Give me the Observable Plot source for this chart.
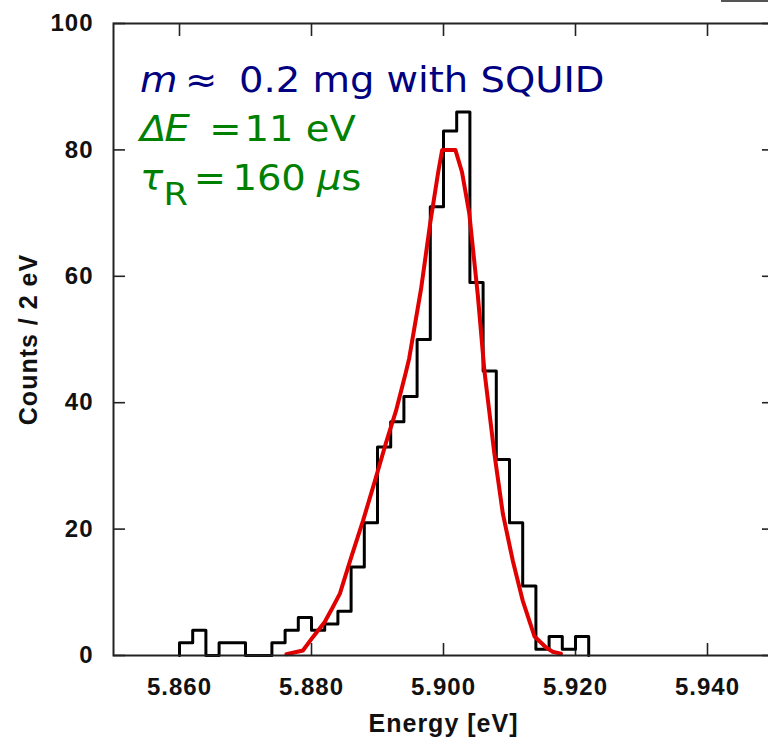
<!DOCTYPE html>
<html>
<head>
<meta charset="utf-8">
<script src="https://cdn.jsdelivr.net/npm/d3@7"></script>
<script src="https://cdn.jsdelivr.net/npm/@observablehq/plot@0.6"></script>
<style>
html, body { margin: 0; padding: 0; background: #fff; overflow: hidden; width: 768px; height: 739px; }
#chart { position: relative; width: 768px; height: 739px; overflow: hidden; }
#chart svg { max-width: none !important; display: block; }
#corner { position: absolute; left: 721px; top: 0; width: 47px; height: 2px; background: #555; }
</style>
</head>
<body>
<div id="chart"><div id="corner"></div></div>
<script>
// Histogram: bin edges (keV) and counts per 2 eV bin
const binEdges = [5.860, 5.862, 5.864, 5.866, 5.868, 5.870, 5.872, 5.874, 5.876, 5.878,
                  5.880, 5.882, 5.884, 5.886, 5.888, 5.890, 5.892, 5.894, 5.896, 5.898,
                  5.900, 5.902, 5.904, 5.906, 5.908, 5.910, 5.912, 5.914, 5.916, 5.918,
                  5.920, 5.922];
const binCounts = [2, 4, 0, 2, 2, 0, 0, 2, 4, 6,
                   4, 5, 7, 14, 21, 33, 37, 41, 50, 71,
                   83, 86, 59, 45, 31, 21, 11, 1, 3, 1,
                   3];

// Fitted response curve (red)
const fitEnergy = [5.8762, 5.8787, 5.8802, 5.8820, 5.8832, 5.8843, 5.8860, 5.8878, 5.8896, 5.8913,
                   5.8928, 5.8943, 5.8948, 5.8966, 5.8980, 5.8992, 5.8998, 5.9008, 5.9018, 5.9028,
                   5.9039, 5.9052, 5.9062, 5.9077, 5.9090, 5.9105, 5.9120, 5.9138, 5.9155, 5.9165, 5.9178];
const fitCounts = [0.2, 0.8, 2.9, 5.3, 7.6, 9.8, 15.5, 21.3, 27.6, 33.7,
                   38.7, 44.8, 47.0, 58.0, 68.5, 76.5, 80, 80, 80, 76.5,
                   70, 57, 45, 32, 22.4, 15, 8.7, 3.0, 1.3, 0.6, 0.3];

const xTicks = [5.86, 5.88, 5.90, 5.92, 5.94];
const xTickLabels = ["5.860", "5.880", "5.900", "5.920", "5.940"];
const yTicks = [0, 20, 40, 60, 80, 100];
const yTickLabels = ["0", "20", "40", "60", "80", "100"];

const xTitle = "Energy [eV]";
const yTitle = "Counts / 2 eV";
const annMass = ["m", "≈", "0.2 mg with SQUID"];
const annRes = ["Δ", "E", "=", "11 eV"];
const annTau = ["τ", "R", "=", "160", "μ", "s"];

// Build table objects for the marks
const histData = [{e: binEdges[0], c: 0}]
  .concat(binCounts.map((c, i) => ({e: binEdges[i], c})))
  .concat([{e: binEdges[binEdges.length - 1], c: 0}]);
const fitData = fitEnergy.map((e, i) => ({e, c: fitCounts[i]}));

const axisFont = "'Liberation Sans', Arial, Helvetica, sans-serif";
const frameColor = "#222";

const chart = Plot.plot({
  width: 780,
  height: 739,
  marginLeft: 113,
  marginRight: 7,
  marginTop: 23,
  marginBottom: 84,
  x: {domain: [5.85, 5.95]},
  y: {domain: [0, 100]},
  style: {fontFamily: axisFont, background: "white", color: "#000", letterSpacing: "1px", maxWidth: "none"},
  marks: [
    // inward ticks on all four sides
    Plot.axisX(xTicks, {anchor: "bottom", tickSize: 12, dy: -12, tickFormat: () => "", label: null, stroke: frameColor, strokeWidth: 1.6}),
    Plot.axisX(xTicks, {anchor: "top", tickSize: 12, dy: 12, tickFormat: () => "", label: null, stroke: frameColor, strokeWidth: 1.6}),
    Plot.axisY(yTicks, {anchor: "left", tickSize: 12, dx: 12, tickFormat: () => "", label: null, stroke: frameColor, strokeWidth: 1.6}),
    Plot.axisY(yTicks, {anchor: "right", tickSize: 12, dx: -12, tickFormat: () => "", label: null, stroke: frameColor, strokeWidth: 1.6}),
    // tick labels
    Plot.axisX(xTicks, {anchor: "bottom", tickSize: 0, tickPadding: 22, tickFormat: d => xTickLabels[xTicks.indexOf(d)], label: null, fontSize: 24, fontWeight: "bold", fill: "#111"}),
    Plot.axisY(yTicks, {anchor: "left", tickSize: 0, tickPadding: 20, tickFormat: d => yTickLabels[yTicks.indexOf(d)], label: null, fontSize: 24, fontWeight: "bold", fill: "#111"}),
    // axis titles
    Plot.text([xTitle], {text: d => d, frameAnchor: "bottom", textAnchor: "middle", lineAnchor: "middle", dy: 68, fontSize: 25, fontWeight: "bold", fill: "#111"}),
    Plot.text([yTitle], {text: d => d, frameAnchor: "left", textAnchor: "middle", lineAnchor: "middle", rotate: -90, dx: -85, fontSize: 25, fontWeight: "bold", fill: "#111"}),
    // histogram outline
    Plot.line(histData, {x: "e", y: "c", curve: "step-after", stroke: "#000", strokeWidth: 3}),
    // fit
    Plot.line(fitData, {x: "e", y: "c", curve: "linear", stroke: "#e00000", strokeWidth: 4, strokeLinejoin: "round"}),
    Plot.frame({stroke: frameColor, strokeWidth: 2})
  ]
});

chart.style.maxWidth = "none";
chart.style.height = "739px";
document.getElementById("chart").prepend(chart);

// Annotation block with rich text (slightly wide lettering as in the reference)
const svg = d3.select(chart);
const ann = svg.append("g")
  .attr("transform", "translate(140,0) scale(1.1,1)")
  .attr("font-family", "'DejaVu Sans', Verdana, sans-serif")
  .attr("font-size", 35)
  .attr("text-anchor", "start")
  .style("letter-spacing", "0px");

const t1 = ann.append("text").attr("y", 92).attr("fill", "#000080");
t1.append("tspan").attr("x", 0).attr("font-style", "italic").text(annMass[0]);
t1.append("tspan").attr("x", 41).text(annMass[1]);
t1.append("tspan").attr("x", 90).text(annMass[2]);

const t2 = ann.append("text").attr("y", 141.5).attr("fill", "#008000");
t2.append("tspan").attr("x", 0).attr("font-style", "italic").text(annRes[0]);
t2.append("tspan").attr("x", 22).attr("font-style", "italic").attr("font-size", 37).text(annRes[1]);
t2.append("tspan").attr("x", 63).attr("font-size", 35).text(annRes[2]);
t2.append("tspan").attr("x", 95).text(annRes[3]);

const t3 = ann.append("text").attr("y", 190).attr("fill", "#008000");
t3.append("tspan").attr("x", 0).attr("font-style", "italic").text(annTau[0]);
t3.append("tspan").attr("x", 21.4).attr("y", 205).attr("font-size", 32).text(annTau[1]);
t3.append("tspan").attr("x", 48.8).attr("y", 190).text(annTau[2]);
t3.append("tspan").attr("x", 84).text(annTau[3]);
t3.append("tspan").attr("x", 160.8).attr("font-style", "italic").text(annTau[4]);
t3.append("tspan").text(annTau[5]);
</script>
</body>
</html>
